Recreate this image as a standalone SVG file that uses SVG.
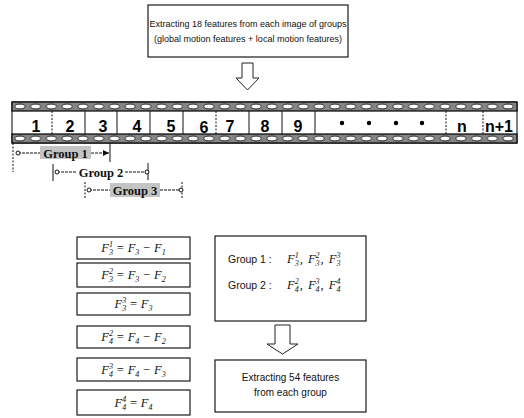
<svg xmlns="http://www.w3.org/2000/svg" width="524" height="418" viewBox="0 0 524 418">
<style>
.box{fill:#fff;stroke:#1a1a1a;stroke-width:1.2}
.t{font-family:"Liberation Sans",Arial,sans-serif;fill:#111}
.num{font-family:"Liberation Sans",Arial,sans-serif;font-weight:bold;font-size:16px;fill:#000;text-anchor:middle}
.fm{font-family:"Liberation Serif","Times New Roman",serif;font-style:italic;font-size:12.5px;fill:#111}
.s{font-size:8px}
.grp{font-family:"Liberation Serif","Times New Roman",serif;font-weight:bold;font-size:12.5px;fill:#111;text-anchor:middle}
.gl{stroke:#111;stroke-width:1;fill:none;stroke-dasharray:3 1}
.tick{stroke:#111;stroke-width:1;fill:none}
.div{stroke:#111;stroke-width:1}
.dash{stroke-dasharray:2 1.5}
.band{fill:#858585;stroke:#000;stroke-width:1.2}
.arr{fill:#fff;stroke:#222;stroke-width:1}
.hl{fill:#c4c4c4}
</style>
<defs>
<pattern id="holes" patternUnits="userSpaceOnUse" x="12" y="0" width="15.75" height="418">
<ellipse cx="7.9" cy="106.5" rx="5" ry="2.4" fill="#fff" stroke="#000" stroke-width="0.8"/>
<ellipse cx="7.9" cy="138.5" rx="5" ry="2.4" fill="#fff" stroke="#000" stroke-width="0.8"/>
</pattern>
<marker id="ah" markerWidth="7" markerHeight="6" refX="6" refY="3" orient="auto" markerUnits="userSpaceOnUse">
<path d="M0,0 L6,3 L0,6 Z" fill="#111"/>
</marker>
<marker id="dot" markerWidth="6" markerHeight="6" refX="3" refY="3" orient="auto" markerUnits="userSpaceOnUse">
<circle cx="3" cy="3" r="2" fill="#fff" stroke="#111" stroke-width="1"/>
</marker>
</defs>

<g id="top-box">
<rect class="box" x="148" y="5" width="200" height="52"/>
<text class="t" x="248" y="27" font-size="9" text-anchor="middle">Extracting 18 features from each image of groups</text>
<text class="t" x="248" y="42" font-size="9" text-anchor="middle">(global motion features + local motion features)</text>
</g>

<g id="film-strip">
<rect x="12" y="102" width="505" height="41" fill="#fff" stroke="#000" stroke-width="1"/>
<rect class="band" x="12" y="102" width="505" height="9"/>
<rect class="band" x="12" y="134" width="505" height="9"/>
<rect x="12" y="102" width="505" height="41" fill="url(#holes)"/>
<line class="div dash" x1="52" y1="111" x2="52" y2="134"/>
<line class="div" x1="85" y1="111" x2="85" y2="134"/>
<line class="div" x1="117" y1="111" x2="117" y2="134"/>
<line class="div" x1="150" y1="111" x2="150" y2="134"/>
<line class="div" x1="183" y1="111" x2="183" y2="134"/>
<line class="div dash" x1="216" y1="111" x2="216" y2="134"/>
<line class="div" x1="249" y1="111" x2="249" y2="134"/>
<line class="div" x1="282" y1="111" x2="282" y2="134"/>
<line class="div" x1="315" y1="111" x2="315" y2="134"/>
<line class="div dash" x1="446" y1="111" x2="446" y2="134"/>
<line class="div dash" x1="483" y1="111" x2="483" y2="134"/>
<text class="num" x="36" y="132">1</text>
<text class="num" x="70" y="132">2</text>
<text class="num" x="103" y="132">3</text>
<text class="num" x="137" y="132">4</text>
<text class="num" x="171" y="132">5</text>
<text class="num" x="204" y="133">6</text>
<text class="num" x="230" y="132">7</text>
<text class="num" x="265" y="132">8</text>
<text class="num" x="298" y="132">9</text>
<circle cx="342" cy="123" r="2.2" fill="#000"/>
<circle cx="369" cy="123" r="2.2" fill="#000"/>
<circle cx="396" cy="123" r="2.2" fill="#000"/>
<circle cx="422" cy="123" r="2.2" fill="#000"/>
<text class="num" x="462" y="132">n</text>
<text class="num" x="499" y="132">n+1</text>
</g>

<g id="connectors">
<path class="arr" d="M242,63 L253,63 L253,78 L259,78 L247.5,90 L236,78 L242,78 Z"/>
<path class="arr" d="M275,325 L290,325 L290,344 L298,344 L282.5,354 L267,344 L275,344 Z"/>
<line class="tick dash" x1="13" y1="143" x2="13" y2="172"/>
<line class="tick" x1="110" y1="143" x2="110" y2="162"/>
<line class="gl" x1="18" y1="153" x2="40" y2="153" marker-start="url(#dot)"/>
<line class="gl" x1="91" y1="153" x2="109" y2="153" marker-end="url(#ah)"/>
<line class="tick" x1="53" y1="164" x2="53" y2="181"/>
<line class="tick" x1="148" y1="163" x2="148" y2="180"/>
<line class="gl" x1="57" y1="172" x2="77" y2="172" marker-start="url(#dot)"/>
<line class="gl" x1="125" y1="172" x2="147" y2="172" marker-end="url(#dot)"/>
<line class="tick dash" x1="85" y1="182" x2="85" y2="198"/>
<line class="tick dash" x1="182" y1="182" x2="182" y2="198"/>
<line class="gl" x1="89" y1="190" x2="110" y2="190" marker-start="url(#dot)"/>
<line class="gl" x1="160" y1="190" x2="181" y2="190" marker-end="url(#dot)"/>
</g>

<g id="group1-label">
<rect class="hl" x="40" y="146" width="51" height="13"/>
<text class="grp" x="65.5" y="157.5">Group 1</text>
</g>
<g id="group2-label">
<text class="grp" x="101" y="176.5">Group 2</text>
</g>
<g id="group3-label">
<rect class="hl" x="110" y="183" width="50" height="14"/>
<text class="grp" x="135" y="194.5">Group 3</text>
</g>

<g id="f1">
<rect class="box" x="77" y="237" width="113" height="22"/>
<text class="fm" x="133.5" y="252" text-anchor="middle">F<tspan class="s" dy="3">3</tspan><tspan class="s" dx="-4" dy="-8">1</tspan><tspan dy="5"> = F</tspan><tspan class="s" dy="3">3</tspan><tspan dy="-3"> − F</tspan><tspan class="s" dy="3">1</tspan></text>
</g>
<g id="f2">
<rect class="box" x="77" y="263" width="113" height="24"/>
<text class="fm" x="133.5" y="279" text-anchor="middle">F<tspan class="s" dy="3">3</tspan><tspan class="s" dx="-4" dy="-8">2</tspan><tspan dy="5"> = F</tspan><tspan class="s" dy="3">3</tspan><tspan dy="-3"> − F</tspan><tspan class="s" dy="3">2</tspan></text>
</g>
<g id="f3">
<rect class="box" x="77" y="293" width="113" height="22"/>
<text class="fm" x="133.5" y="308" text-anchor="middle">F<tspan class="s" dy="3">3</tspan><tspan class="s" dx="-4" dy="-8">3</tspan><tspan dy="5"> = F</tspan><tspan class="s" dy="3">3</tspan></text>
</g>
<g id="f4">
<rect class="box" x="77" y="326" width="113" height="22"/>
<text class="fm" x="133.5" y="341" text-anchor="middle">F<tspan class="s" dy="3">4</tspan><tspan class="s" dx="-4" dy="-8">2</tspan><tspan dy="5"> = F</tspan><tspan class="s" dy="3">4</tspan><tspan dy="-3"> − F</tspan><tspan class="s" dy="3">2</tspan></text>
</g>
<g id="f5">
<rect class="box" x="77" y="358" width="113" height="23"/>
<text class="fm" x="133.5" y="374" text-anchor="middle">F<tspan class="s" dy="3">4</tspan><tspan class="s" dx="-4" dy="-8">3</tspan><tspan dy="5"> = F</tspan><tspan class="s" dy="3">4</tspan><tspan dy="-3"> − F</tspan><tspan class="s" dy="3">3</tspan></text>
</g>
<g id="f6">
<rect class="box" x="77" y="390" width="113" height="25"/>
<text class="fm" x="133.5" y="407" text-anchor="middle">F<tspan class="s" dy="3">4</tspan><tspan class="s" dx="-4" dy="-8">4</tspan><tspan dy="5"> = F</tspan><tspan class="s" dy="3">4</tspan></text>
</g>

<g id="groups-box">
<rect class="box" x="215" y="236" width="151" height="85"/>
<text class="t" x="228" y="263" font-size="10.5">Group 1 :</text>
<text class="fm" x="287" y="263">F<tspan class="s" dy="3">3</tspan><tspan class="s" dx="-4" dy="-8">1</tspan><tspan dy="5" dx="1">, </tspan><tspan dx="2">F</tspan><tspan class="s" dy="3">3</tspan><tspan class="s" dx="-4" dy="-8">2</tspan><tspan dy="5" dx="1">, </tspan><tspan dx="2">F</tspan><tspan class="s" dy="3">3</tspan><tspan class="s" dx="-4" dy="-8">3</tspan></text>
<text class="t" x="228" y="289" font-size="10.5">Group 2 :</text>
<text class="fm" x="287" y="289">F<tspan class="s" dy="3">4</tspan><tspan class="s" dx="-4" dy="-8">2</tspan><tspan dy="5" dx="1">, </tspan><tspan dx="2">F</tspan><tspan class="s" dy="3">4</tspan><tspan class="s" dx="-4" dy="-8">3</tspan><tspan dy="5" dx="1">, </tspan><tspan dx="2">F</tspan><tspan class="s" dy="3">4</tspan><tspan class="s" dx="-4" dy="-8">4</tspan></text>
</g>

<g id="result-box">
<rect class="box" x="215" y="360" width="151" height="52"/>
<text class="t" x="290.5" y="381" font-size="10" text-anchor="middle">Extracting 54 features</text>
<text class="t" x="290.5" y="396" font-size="10" text-anchor="middle">from each group</text>
</g>
</svg>
